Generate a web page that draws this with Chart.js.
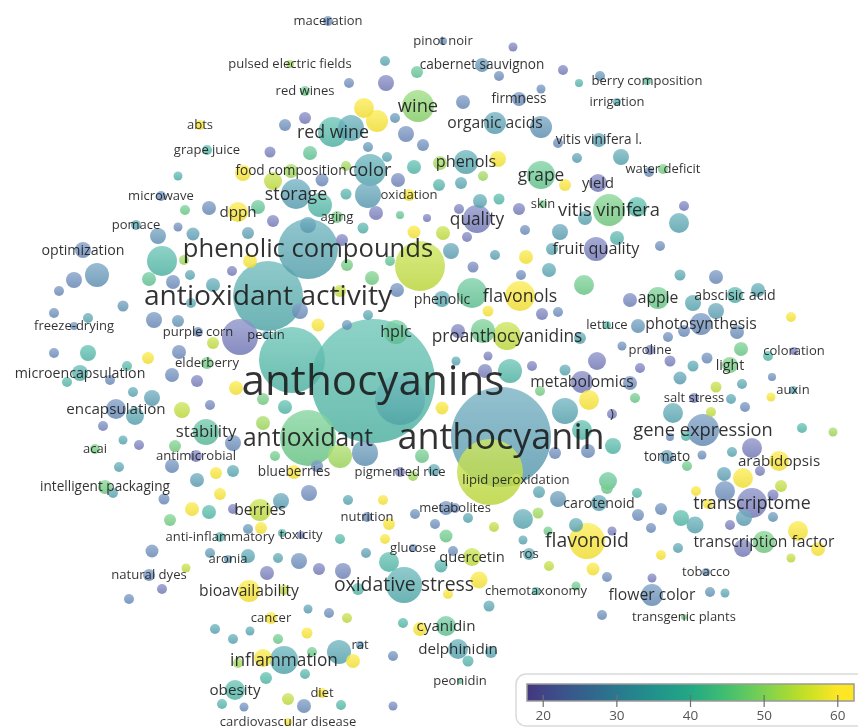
<!DOCTYPE html>
<html>
<head>
<meta charset="utf-8">
<title>Keyword co-occurrence overlay map</title>
<script src="https://cdn.jsdelivr.net/npm/chart.js@4.4.1/dist/chart.umd.min.js"></script>
<style>
  html, body { margin: 0; padding: 0; background: #ffffff; overflow: hidden; }
  #wrap { width: 858px; height: 728px; position: relative; }
</style>
</head>
<body>
<div id="wrap"><canvas id="map" width="858" height="728"></canvas></div>
<script>
// ---- Labelled keywords: map coordinates, node weight and overlay score ----
const termLabels = ["anthocyanins","anthocyanin","antioxidant activity","phenolic compounds","antioxidant","oxidative stress","red wine","wine","color","storage",
  "gene expression","transcriptome","flavonoid","grape","vitis vinifera","quality","hplc","flavonols","proanthocyanidins","organic acids",
  "phenols","stability","inflammation","bioavailability","encapsulation","photosynthesis","apple","fruit quality","metabolomics","transcription factor",
  "flower color","cyanidin","dpph","arabidopsis","obesity","berries","microencapsulation","optimization","light","abscisic acid",
  "delphinidin","quercetin","carotenoid","blueberries","lipid peroxidation","pigmented rice","antimicrobial","elderberry","purple corn","pectin",
  "phenolic","lettuce","proline","coloration","auxin","salt stress","tomato","tobacco","transgenic plants","chemotaxonomy",
  "ros","glucose","metabolites","nutrition","toxicity","anti-inflammatory","aronia","natural dyes","cancer","rat",
  "diet","cardiovascular disease","peonidin","intelligent packaging","acai","freeze-drying","pomace","microwave","grape juice","abts",
  "food composition","aging","oxidation","maceration","pulsed electric fields","red wines","pinot noir","cabernet sauvignon","firmness","berry composition",
  "irrigation","vitis vinifera l.","water deficit","yield","skin",")"];
const termX = [373,501,268,308,308,404,333,418,370,296, 703,752,587,541,609,477,396,520,507,495,
  466,206,284,249,116,701,658,596,582,764, 652,446,238,779,235,260,80,83,730,735,
  458,472,599,294,516,400,196,207,198,266, 442,607,650,794,793,694,667,706,684,536,
  529,413,455,367,301,220,228,149,271,360, 322,288,460,105,95,74,136,161,207,200,
  291,337,409,328,290,305,443,482,519,647, 617,599,663,598,543,612];
const termY = [381,437,296,249,438,585,132,106,170,194, 430,503,541,175,210,219,332,296,336,123,
  162,432,660,591,409,324,298,249,382,542, 595,626,212,461,690,510,373,250,365,295,
  649,557,503,472,480,472,456,363,332,335, 299,325,350,351,390,398,457,572,617,591,
  554,548,508,517,535,537,559,575,618,645, 693,722,681,487,449,326,225,196,150,125,
  171,217,195,21,64,91,41,65,99,81, 102,140,169,183,204,414];
const termWeight = [62,50,35,30,28,18,15,16,16,15, 16,15,18,14,16,14,12,15,14,11,
  12,13,14,11,10,11,11,12,11,11, 11,10,10,10,10,11,8,8,8,8,
  10,9,8,7,6,5,6,6,5,4, 8,4,5,4,4,5,7,4,3,4,
  6,4,5,5,4,5,4,6,6,4, 5,4,3,7,5,4,5,5,5,5,
  7,6,6,5,4,5,4,7,7,4, 4,7,5,9,4,5];
const termScore = [40,32,36,34,46,36,40,50,35,33, 27,21,60,45,47,21,44,60,55,33,
  35,42,35,60,26,26,46,21,21,47, 27,44,60,60,40,55,38,26,47,38,
  34,55,33,60,55,21,21,47,26,34, 34,40,21,21,34,21,30,27,47,40,
  34,26,26,26,23,38,30,26,60,30, 60,60,44,47,47,26,34,26,40,60,
  52,47,60,26,52,46,26,29,26,42, 36,33,47,21,47,21];

// ---- Unlabelled keywords (labels hidden by overlap) ----
const nodeX = [
  178,185,209,178,193,158,
  385,417,349,386,364,377,305,285,395,351, 406,423,270,368,310,387,414,243,273,346, 322,368,398,320,346,258,273,376,400,363, 414,427,248,308,342,
  513,499,563,579,600,541,463,541,558,577, 621,649,440,498,439,461,483,565,480,499, 519,459,637,585,443,525,467,560,617,684, 679,660,
  162,184,74,97,59,149,173,190,213,123, 191,54,88,154,178,213,54,88,148,179, 127,67,110,172,197,133,152,210,135,182, 103,123,139,175,119,172,197,113,
  164,192,209,170,152,210,186,162,129,215,
  220,309,281,233,348,383,389,415,248,261, 282,340,385,248,278,299,319,343,267,366, 389,358,284,308,329,347,250,233,278,307, 403,420,263,312,339,353,238,393,305,266, 288,304,222,244,341,393,
  490,539,558,607,637,446,468,435,523,538, 494,638,576,612,548,446,523,453,441,549, 593,607,479,448,576,489,602,491,468,
  696,725,773,781,708,661,681,695,744,773, 730,651,798,743,818,678,661,791,652,710, 725,
  680,716,693,758,716,791,684,737,668,741, 670,707,693,768,680,772,716,742,771,731, 711,745,673,802,833,686,670,752,732,702, 687,760,724,743,
  451,552,495,526,473,549,521,420,584,472, 630,488,542,558,483,458,638,580,622,488, 456,510,532,597,640,565,485,540,630,589, 565,635,442,582,613,588,555,608,434,
  250,232,347,372,390,397,318,340,347,300, 368,292,240,236,263,285,263,233,365,340, 422,216,233,317,275,413,400];
const nodeY = [
  176,210,208,227,234,236,
  61,72,83,83,108,121,118,125,118,128, 134,145,152,147,153,157,167,173,181,166, 180,195,180,205,194,207,221,213,215,228, 232,218,233,225,240,
  47,76,70,83,76,89,102,127,143,158, 157,172,163,159,185,183,176,185,201,199, 209,209,207,218,233,230,237,232,238,206, 223,246,
  261,260,280,275,291,279,282,275,285,306, 303,313,318,320,321,343,353,353,358,352, 366,382,380,375,381,392,398,405,416,410, 426,440,445,446,467,466,480,493,
  499,509,512,520,551,553,568,589,599,629,
  494,493,501,509,500,500,524,514,529,528, 533,539,539,556,558,561,569,571,573,553, 562,589,590,609,613,618,631,639,639,633, 623,629,658,652,652,661,663,656,674,678, 699,706,704,707,705,706,
  472,492,499,488,493,508,518,524,519,513, 527,515,525,531,531,536,540,551,566,566, 569,577,580,594,586,606,615,652,661,
  491,491,495,486,504,509,518,525,518,517, 525,528,531,548,549,548,555,558,578,592, 593,
  275,277,303,290,311,317,331,332,337,349, 361,358,366,356,378,377,387,384,397,399, 412,407,413,428,432,436,437,448,452,455, 466,471,474,478,
  251,249,255,257,267,270,275,266,285,293, 300,311,314,312,331,331,326,338,346,356, 361,371,366,361,368,370,371,391,383,400, 411,398,408,430,446,451,453,481,470,
  261,271,265,278,261,290,325,291,325,311, 315,360,337,388,399,407,423,443,453,456, 456,473,471,466,456,476,400];
const nodeWeight = [
  4.5,5,7,4.5,6.5,8,
  5,6,5,8,10,11,6,6,5,13, 8,6,5.5,5,7,5,7,8,9,5, 6.5,13,7,12,5.5,7,6,7,4,5.5, 6.5,4,6,8,6,
  4.5,5,5,4,5,4.5,7,11,5,5, 8,5,7,8,6,6,5,6,7,5.5, 6,5,10,7,7,5,5,8,7,5, 10,5,
  15,5,8,12,5,7,7,5,7,5.5, 5,5,5,8,6,6,5,8,6,7, 5,5,5,7,6,5,8,5,9,8, 5,4.5,5,6,5,7,7,5,
  5.5,7,7,6,6.5,5,4.5,5,5,5,
  6,8,8,5,5,5,6,5,5,6, 4,5,5,7,5,8,6,8,7,5, 10,6,5,4.5,5,5,4.5,5,5,5.5, 5,7,9,5,12,7,5,5,5,6, 6,7,5,4.5,5,4.5,
  33,6,8,6,5,7,5,5,10,5.5, 5,6,7,4.5,4.5,6.5,4.5,5,6.5,5, 6.5,5,8.5,5,4.5,5.5,5,6,5.5,
  5,10,5.5,6,5,6,8,8.5,8,5, 5,5,10,9,7,5,5,4.5,4.5,5, 4.5,
  5.5,7,8,7,8,5,6,7,5,7, 5.5,5.5,5.5,5,6.5,4,5.5,5,4.5,5, 5,5,10,5,4.5,5,4,10,5,4.5, 5,5,7,10,
  8,6,5,7,5.5,7,5,25,10,15, 7,5.5,6,5,12,7,7,6,4.5,4.5, 4.5,12,5,9,5,5.5,7,5,7,10, 13,5,6.5,10,8,7,6,9,6,
  7,5,6,7,5,7,6.5,6,5,8, 5,33,18,7,6,7,7,8,13,12, 7,6,6,6,5,5,25];
const nodeScore = [
  38,46,26,25,32,29,
  34,44,26,21,60,60,21,26,29,34, 25,26,21,29,44,34,40,60,55,52, 25,32,23,40,38,44,21,21,44,38, 60,21,32,32,21,
  21,26,21,38,29,26,26,29,26,32, 34,26,52,60,38,34,52,60,34,40, 21,21,40,34,55,26,21,32,38,21, 34,26,
  40,52,26,29,26,44,26,34,34,29, 34,26,34,26,29,55,26,40,60,25, 40,40,26,26,21,34,32,23,34,55, 23,34,21,47,34,26,32,34,
  26,60,40,47,26,30,55,21,26,34,
  60,25,32,21,34,60,60,26,29,60, 38,40,60,34,34,26,21,23,21,32, 40,40,55,32,26,55,34,34,46,60, 40,60,60,46,34,60,52,26,38,40, 55,26,38,26,40,23,
  55,34,29,46,40,26,34,26,34,52, 55,26,34,21,46,46,34,26,38,55, 60,26,60,60,46,34,26,34,38,
  60,26,21,55,60,26,40,34,32,29, 21,26,60,21,60,34,60,55,21,29, 34,
  34,26,34,34,32,60,26,26,26,46, 21,26,34,40,32,26,55,34,60,34, 55,26,34,40,52,40,26,21,34,26, 46,21,32,60,
  32,34,32,60,23,34,26,55,46,44, 23,60,21,26,46,21,29,34,26,21, 34,40,21,21,21,34,21,47,25,60, 34,46,60,40,40,26,25,44,34,
  60,21,47,47,44,26,60,55,29,26, 34,40,21,60,47,40,52,26,29,52, 46,60,34,26,46,52,36];

// ---- Overlay colour scale ----
const scoreMin = 17.8, scoreMax = 62.2;
const scaleTicks = [20, 30, 40, 50, 60];

const VIRIDIS = [[68,1,84],[72,36,117],[65,68,135],[53,95,141],[42,120,142],[33,145,140],
                 [34,168,132],[68,191,112],[122,209,81],[189,223,38],[253,231,37]];
function viridis(t) {
  t = Math.max(0, Math.min(1, t));
  const s = t * 10, i = Math.min(9, Math.floor(s)), f = s - i;
  const a = VIRIDIS[i], b = VIRIDIS[i + 1];
  return [0, 1, 2].map(k => Math.round(a[k] + (b[k] - a[k]) * f));
}
function scoreColor(v) { return viridis(0.2 + (v - 20) * 0.02); }
function rgba(c, a) { return `rgba(${c[0]},${c[1]},${c[2]},${a})`; }
function lighten(c, f) { return c.map(x => Math.round(x + (255 - x) * f)); }
// node fill: darker hues are softened more than the bright end of the scale
function nodeColor(v) {
  const base = scoreColor(v);
  const lum = (0.299 * base[0] + 0.587 * base[1] + 0.114 * base[2]) / 255;
  const c = lighten(base, 0.42 * (1 - lum));
  c[2] = Math.min(255, Math.round(c[2] + 40 * (1 - lum) * (1 - lum)));
  return c;
}

// ---- Build one bubble dataset: large nodes first so small ones sit on top ----
const points = [];
termLabels.forEach((t, i) => points.push({ x: termX[i], y: termY[i], r: termWeight[i], v: termScore[i], label: t }));
nodeX.forEach((x, i) => points.push({ x: x, y: nodeY[i], r: nodeWeight[i], v: nodeScore[i], label: "" }));
points.sort((a, b) => b.r - a.r);

function bubbleFill(ctx) {
  const p = ctx.raw;
  if (!p || typeof p.v !== "number") return "rgba(0,0,0,0)";
  const base = nodeColor(p.v);
  const chart = ctx.chart;
  const sx = chart.scales && chart.scales.x, sy = chart.scales && chart.scales.y;
  const px = sx ? sx.getPixelForValue(p.x) : NaN;
  const py = sy ? sy.getPixelForValue(p.y) : NaN;
  if (!Number.isFinite(px) || !Number.isFinite(py) || !Number.isFinite(p.r)) return rgba(base, 0.82);
  const g = chart.ctx.createLinearGradient(px, py - p.r, px, py + p.r);
  g.addColorStop(0, rgba(lighten(base, 0.18), 0.8));
  g.addColorStop(1, rgba(base.map(x => Math.round(x * 0.94)), 0.84));
  return g;
}

// label size follows node weight
function labelSize(r) { return Math.max(13, 10 + 0.52 * r); }

const labelPlugin = {
  id: "termLabels",
  afterDatasetsDraw(chart) {
    const meta = chart.getDatasetMeta(0);
    const data = chart.data.datasets[0].data;
    const items = meta.data.map((el, i) => ({ el, d: data[i] })).filter(o => o.d.label);
    items.sort((a, b) => a.d.r - b.d.r);
    const c = chart.ctx;
    c.save();
    c.textAlign = "center";
    c.textBaseline = "middle";
    items.forEach(({ el, d }) => {
      const fs = labelSize(d.r);
      c.font = `${fs.toFixed(1)}px "Open Sans", "DejaVu Sans", sans-serif`;
      c.fillStyle = "rgba(28,28,28,0.9)";
      c.fillText(d.label, el.x, el.y + fs * 0.04);
    });
    c.restore();
  }
};

const colorbarPlugin = {
  id: "overlayScale",
  afterDraw(chart) {
    const c = chart.ctx;
    const bx = 527, bw = 327, by = 684, bh = 17;
    c.save();
    c.beginPath();
    c.roundRect(516, 674, 380, 52, 10);
    c.fillStyle = "#ffffff";
    c.fill();
    c.lineWidth = 1.5;
    c.strokeStyle = "#dadada";
    c.stroke();
    const g = c.createLinearGradient(bx, 0, bx + bw, 0);
    for (let k = 0; k <= 20; k++) {
      const v = scoreMin + (scoreMax - scoreMin) * k / 20;
      g.addColorStop(k / 20, rgba(scoreColor(v), 1));
    }
    c.fillStyle = g;
    c.fillRect(bx, by, bw, bh);
    c.lineWidth = 1.5;
    c.strokeStyle = "#9a9a9a";
    c.strokeRect(bx, by, bw, bh);
    c.strokeStyle = "#6f6f6f";
    c.lineWidth = 1.2;
    c.fillStyle = "#555555";
    c.font = '13.5px "Open Sans", "DejaVu Sans", sans-serif';
    c.textAlign = "center";
    c.textBaseline = "middle";
    scaleTicks.forEach(t => {
      const x = bx + (t - scoreMin) / (scoreMax - scoreMin) * bw;
      c.beginPath();
      c.moveTo(x, 695);
      c.lineTo(x, 707);
      c.stroke();
      c.fillText(String(t), x, 716);
    });
    c.restore();
  }
};

new Chart(document.getElementById("map"), {
  type: "bubble",
  data: {
    datasets: [{
      data: points,
      backgroundColor: bubbleFill,
      borderWidth: 0,
      hoverBorderWidth: 0,
      clip: false
    }]
  },
  options: {
    responsive: false,
    animation: false,
    events: [],
    layout: { padding: 0, autoPadding: false },
    scales: {
      x: { type: "linear", min: 0, max: 858, display: false },
      y: { type: "linear", min: 0, max: 728, reverse: true, display: false }
    },
    plugins: { legend: { display: false }, tooltip: { enabled: false } }
  },
  plugins: [labelPlugin, colorbarPlugin]
});
</script>
</body>
</html>
